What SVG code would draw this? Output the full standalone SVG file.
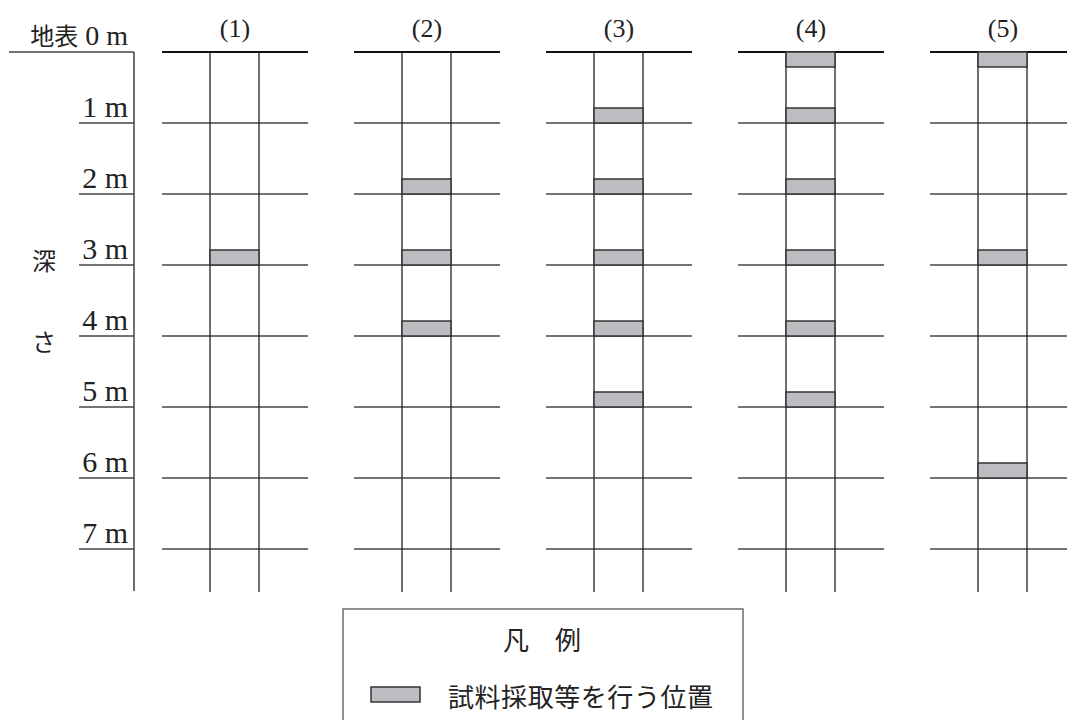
<svg xmlns="http://www.w3.org/2000/svg" width="1067" height="720" viewBox="0 0 1067 720">
<style>
.t{font-family:"Liberation Serif","Noto Sans CJK JP",serif;fill:#222;}
.ln{stroke:#444;stroke-width:1.3;fill:none;}
.top{stroke:#111;stroke-width:2.2;fill:none;}
.v{stroke:#222;stroke-width:1.3;fill:none;}
.s{fill:#bcbdc1;stroke:#333;stroke-width:1.5;}
</style>
<rect width="1067" height="720" fill="#fff"/>
<g id="axis">
<line class="ln" x1="9" y1="52" x2="134" y2="52"/>
<line class="v" x1="134" y1="52" x2="134" y2="591"/>
<line class="ln" x1="79" y1="123" x2="134" y2="123"/>
<line class="ln" x1="79" y1="194" x2="134" y2="194"/>
<line class="ln" x1="79" y1="265" x2="134" y2="265"/>
<line class="ln" x1="79" y1="336" x2="134" y2="336"/>
<line class="ln" x1="79" y1="407" x2="134" y2="407"/>
<line class="ln" x1="79" y1="478" x2="134" y2="478"/>
<line class="ln" x1="79" y1="549" x2="134" y2="549"/>
<g class="t" font-size="30" text-anchor="end">
<text x="128" y="45" font-size="28"><tspan font-size="24">地表</tspan> 0 m</text>
<text x="128" y="117">1 m</text>
<text x="128" y="188">2 m</text>
<text x="128" y="259">3 m</text>
<text x="128" y="330">4 m</text>
<text x="128" y="401">5 m</text>
<text x="128" y="472">6 m</text>
<text x="128" y="543">7 m</text>
</g>
<text class="t" font-size="24" x="44" y="270" text-anchor="middle">深</text>
<text class="t" font-size="24" x="44" y="351" text-anchor="middle">さ</text>
</g>
<defs>
<g id="col">
<line class="top" x1="0" y1="52" x2="146" y2="52"/>
<line class="ln" x1="0" y1="123" x2="146" y2="123"/>
<line class="ln" x1="0" y1="194" x2="146" y2="194"/>
<line class="ln" x1="0" y1="265" x2="146" y2="265"/>
<line class="ln" x1="0" y1="336" x2="146" y2="336"/>
<line class="ln" x1="0" y1="407" x2="146" y2="407"/>
<line class="ln" x1="0" y1="478" x2="146" y2="478"/>
<line class="ln" x1="0" y1="549" x2="146" y2="549"/>
<line class="v" x1="48" y1="52" x2="48" y2="592"/>
<line class="v" x1="97" y1="52" x2="97" y2="592"/>
</g>
<rect id="smp" class="s" x="48" y="0" width="49" height="15"/>
</defs>
<g id="col1" transform="translate(162,0)">
<use href="#col"/>
<text class="t" font-size="26" x="73" y="37" text-anchor="middle">(1)</text>
<use href="#smp" y="250"/>
</g>
<g id="col2" transform="translate(354,0)">
<use href="#col"/>
<text class="t" font-size="26" x="73" y="37" text-anchor="middle">(2)</text>
<use href="#smp" y="179"/>
<use href="#smp" y="250"/>
<use href="#smp" y="321"/>
</g>
<g id="col3" transform="translate(546,0)">
<use href="#col"/>
<text class="t" font-size="26" x="73" y="37" text-anchor="middle">(3)</text>
<use href="#smp" y="108"/>
<use href="#smp" y="179"/>
<use href="#smp" y="250"/>
<use href="#smp" y="321"/>
<use href="#smp" y="392"/>
</g>
<g id="col4" transform="translate(738,0)">
<use href="#col"/>
<text class="t" font-size="26" x="73" y="37" text-anchor="middle">(4)</text>
<use href="#smp" y="52"/>
<use href="#smp" y="108"/>
<use href="#smp" y="179"/>
<use href="#smp" y="250"/>
<use href="#smp" y="321"/>
<use href="#smp" y="392"/>
</g>
<g id="col5" transform="translate(930,0)">
<use href="#col"/>
<text class="t" font-size="26" x="73" y="37" text-anchor="middle">(5)</text>
<use href="#smp" y="52"/>
<use href="#smp" y="250"/>
<use href="#smp" y="463"/>
</g>
<g id="legend">
<rect x="343" y="609" width="400" height="120" fill="#fff" stroke="#555" stroke-width="1.3"/>
<text class="t" font-size="26" x="542" y="650" text-anchor="middle">凡　例</text>
<rect class="s" x="371" y="687" width="49" height="15"/>
<text class="t" font-size="26" x="448" y="707" textLength="265" lengthAdjust="spacing">試料採取等を行う位置</text>
</g>
</svg>
